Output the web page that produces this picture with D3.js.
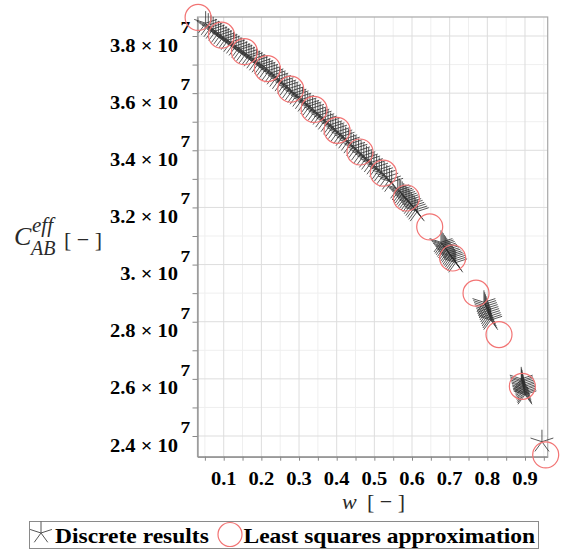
<!DOCTYPE html>
<html>
<head>
<meta charset="utf-8">
<script src="https://cdn.jsdelivr.net/npm/d3@7"></script>
<style>
  body { margin: 0; background: #fff; }
  svg { display: block; }
</style>
</head>
<body>
<svg id="chart" width="561" height="552"></svg>
<script>
// Effective coefficient C_AB^eff (in units of 10^7) against w.

// Least squares approximation, sampled
const fitW = [0.032, 0.094, 0.155, 0.216, 0.278, 0.340, 0.401, 0.462,
              0.524, 0.585, 0.647, 0.708, 0.770, 0.831, 0.893, 0.955];
const fitC = [3.865, 3.803, 3.745, 3.686, 3.614, 3.543, 3.470, 3.394,
              3.320, 3.233, 3.132, 3.023, 2.900, 2.755, 2.574, 2.334];

// Discrete results: dense run at low w
const runW = [0.052, 0.059, 0.066, 0.072, 0.079, 0.086, 0.092,
              0.099, 0.106, 0.112, 0.119, 0.126, 0.133, 0.140, 0.146, 0.153,
              0.160, 0.167, 0.173, 0.180, 0.187, 0.194, 0.201, 0.207, 0.214,
              0.221, 0.228, 0.234, 0.241, 0.248, 0.255, 0.262, 0.268, 0.275,
              0.282, 0.289, 0.295, 0.302, 0.309, 0.316, 0.323, 0.329, 0.336,
              0.343, 0.350, 0.356, 0.363, 0.370, 0.377, 0.384, 0.390, 0.397,
              0.404, 0.411, 0.417, 0.424, 0.431, 0.438, 0.445, 0.451, 0.458,
              0.465, 0.472, 0.479, 0.485, 0.492, 0.499, 0.506, 0.513, 0.519,
              0.526, 0.533, 0.540, 0.546];
const runC = [3.845, 3.838, 3.831, 3.825, 3.818, 3.811, 3.805,
              3.798, 3.792, 3.786, 3.779, 3.773, 3.766, 3.759, 3.754, 3.747,
              3.740, 3.733, 3.728, 3.721, 3.714, 3.707, 3.701, 3.695, 3.688,
              3.680, 3.672, 3.665, 3.657, 3.649, 3.641, 3.633, 3.626, 3.617,
              3.609, 3.601, 3.595, 3.587, 3.579, 3.570, 3.562, 3.556, 3.548,
              3.539, 3.531, 3.524, 3.515, 3.507, 3.499, 3.490, 3.483, 3.475,
              3.466, 3.458, 3.450, 3.441, 3.433, 3.424, 3.415, 3.408, 3.399,
              3.390, 3.382, 3.374, 3.367, 3.358, 3.350, 3.342, 3.333, 3.326,
              3.317, 3.307, 3.297, 3.289];

// Discrete results: groups at higher w
const groupAW = [0.562, 0.566, 0.570, 0.574, 0.578, 0.582, 0.586,
                 0.590, 0.594, 0.598, 0.602, 0.606, 0.610, 0.614];
const groupAC = [3.266, 3.260, 3.254, 3.249, 3.243, 3.237, 3.231,
                 3.225, 3.218, 3.212, 3.205, 3.199, 3.192, 3.186];
const groupBW = [0.677, 0.680, 0.683, 0.686, 0.689, 0.692, 0.695,
                 0.698, 0.701, 0.704, 0.707, 0.710, 0.713, 0.716];
const groupBC = [3.078, 3.073, 3.068, 3.062, 3.057, 3.052, 3.046,
                 3.041, 3.035, 3.030, 3.025, 3.019, 3.013, 3.007];
const groupCW = [0.791, 0.793, 0.795, 0.797, 0.799, 0.801, 0.803, 0.805, 0.807, 0.809];
const groupCC = [2.868, 2.861, 2.854, 2.847, 2.840, 2.833, 2.826, 2.819, 2.812, 2.806];
const groupDW = [0.890, 0.891, 0.892, 0.893, 0.894, 0.895, 0.896, 0.897, 0.898, 0.899, 0.900];
const groupDC = [2.600, 2.594, 2.589, 2.583, 2.577, 2.572, 2.566, 2.561, 2.555, 2.550, 2.545];
const loneW = [0.945];
const loneC = [2.380];

// Axis ticks and labels
const xTicks = [0.1, 0.2, 0.3, 0.4, 0.5, 0.6, 0.7, 0.8, 0.9];
const xTickLabels = ["0.1", "0.2", "0.3", "0.4", "0.5", "0.6", "0.7", "0.8", "0.9"];
const xMinorTicks = [0.05, 0.15, 0.25, 0.35, 0.45, 0.55, 0.65, 0.75, 0.85, 0.95];
const yTicks = [2.4, 2.6, 2.8, 3.0, 3.2, 3.4, 3.6, 3.8];
const yTickLabels = ["2.4", "2.6", "2.8", "3.", "3.2", "3.4", "3.6", "3.8"];
const yMinorTicks = [2.5, 2.7, 2.9, 3.1, 3.3, 3.5, 3.7];
const yExponent = "7";

const legendLabels = ["Discrete results", "Least squares approximation"];

// ---------------------------------------------------------------
const svg = d3.select("#chart");
const frame = { left: 197.5, right: 547.7, top: 17, bottom: 456.7 };

const x = d3.scaleLinear().domain([0.0304, 0.9603]).range([frame.left, frame.right]);
const y = d3.scaleLinear().domain([2.3276, 3.8665]).range([frame.bottom, frame.top]);

const serif = "'Liberation Serif', 'Times New Roman', serif";
const starColor = "#2e2e2e";
const circleColor = "#f27474";

// grid
const grid = svg.append("g");
grid.selectAll("line.vmin").data(xMinorTicks).join("line")
  .attr("x1", d => x(d)).attr("x2", d => x(d))
  .attr("y1", frame.top).attr("y2", frame.bottom)
  .attr("stroke", "#efefef").attr("stroke-width", 1);
grid.selectAll("line.hmin").data(yMinorTicks).join("line")
  .attr("x1", frame.left).attr("x2", frame.right)
  .attr("y1", d => y(d)).attr("y2", d => y(d))
  .attr("stroke", "#efefef").attr("stroke-width", 1);
grid.selectAll("line.vmaj").data(xTicks).join("line")
  .attr("x1", d => x(d)).attr("x2", d => x(d))
  .attr("y1", frame.top).attr("y2", frame.bottom)
  .attr("stroke", "#dddddd").attr("stroke-width", 1);
grid.selectAll("line.hmaj").data(yTicks).join("line")
  .attr("x1", frame.left).attr("x2", frame.right)
  .attr("y1", d => y(d)).attr("y2", d => y(d))
  .attr("stroke", "#dddddd").attr("stroke-width", 1);

// frame
svg.append("rect")
  .attr("x", frame.left).attr("y", frame.top)
  .attr("width", frame.right - frame.left).attr("height", frame.bottom - frame.top)
  .attr("fill", "none").attr("stroke", "#a8a8a8").attr("stroke-width", 1.2);

// axes (tick marks only; labels are set below)
const xAxis = d3.axisBottom(x)
  .tickValues(xTicks.concat(xMinorTicks)).tickSize(4).tickSizeOuter(0).tickFormat("");
const yAxis = d3.axisLeft(y)
  .tickValues(yTicks.concat(yMinorTicks)).tickSize(5).tickSizeOuter(0).tickFormat("");
const gx = svg.append("g").attr("transform", `translate(0,${frame.bottom})`).call(xAxis);
const gy = svg.append("g").attr("transform", `translate(${frame.left},0)`).call(yAxis);
[gx, gy].forEach(g => {
  g.select(".domain").attr("stroke", "#999").attr("stroke-width", 1.4);
  g.selectAll(".tick line").attr("stroke", "#888");
});

// x tick labels
svg.append("g").selectAll("text").data(xTicks).join("text")
  .attr("transform", d => `translate(${x(d)},485) scale(1.14,1)`)
  .attr("text-anchor", "middle")
  .attr("font-family", serif).attr("font-weight", "bold").attr("font-size", 18)
  .attr("fill", "#000")
  .text((d, i) => xTickLabels[i]);

// y tick labels: mantissa × 10 with raised exponent
const yl = svg.append("g");
yl.selectAll("text.m").data(yTicks).join("text")
  .attr("transform", d => `translate(178,${y(d) + 15.5}) scale(1.14,1)`)
  .attr("text-anchor", "end")
  .attr("font-family", serif).attr("font-weight", "bold").attr("font-size", 18)
  .attr("fill", "#000")
  .text((d, i) => `${yTickLabels[i]} \u00d7 10`);
yl.selectAll("text.e").data(yTicks).join("text")
  .attr("transform", d => `translate(180.5,${y(d) - 3}) scale(1.14,1)`)
  .attr("font-family", serif).attr("font-weight", "bold").attr("font-size", 17)
  .attr("fill", "#000")
  .text(yExponent);

// axis titles
const xt = svg.append("text")
  .attr("x", 342).attr("y", 509)
  .attr("font-family", serif).attr("font-size", 22).attr("fill", "#2a2a2a");
xt.append("tspan").attr("font-style", "italic").text("w");
xt.append("tspan").attr("x", 367).text("[ \u2212 ]");

const yt = svg.append("g").attr("font-family", serif).attr("fill", "#2a2a2a");
yt.append("text").attr("x", 14).attr("y", 245)
  .attr("font-style", "italic").attr("font-size", 26).text("C");
yt.append("text").attr("x", 32).attr("y", 232)
  .attr("font-style", "italic").attr("font-size", 21).text("eff");
yt.append("text").attr("x", 31).attr("y", 255)
  .attr("font-style", "italic").attr("font-size", 20).text("AB");
yt.append("text").attr("x", 64).attr("y", 247)
  .attr("font-size", 22).text("[ \u2212 ]");

// five-armed asterisk marker
const ARM = 12;
const armAngles = [90, 162, 234, 306, 18].map(a => a * Math.PI / 180);
function starPath(cx, cy, r) {
  return armAngles.map(a =>
    `M${cx},${cy}L${cx + r * Math.cos(a)},${cy - r * Math.sin(a)}`).join("");
}

const discrete = [
  [runW, runC], [groupAW, groupAC], [groupBW, groupBC],
  [groupCW, groupCC], [groupDW, groupDC], [loneW, loneC]
].flatMap(([ws, cs]) => ws.map((w, i) => ({ w, c: cs[i] })));

svg.append("g").selectAll("path").data(discrete).join("path")
  .attr("d", d => starPath(x(d.w), y(d.c), ARM))
  .attr("fill", "none").attr("stroke", starColor)
  .attr("stroke-opacity", 0.8).attr("stroke-width", 1);

// least squares circles on top
svg.append("g").selectAll("circle").data(fitW.map((w, i) => ({ w, c: fitC[i] }))).join("circle")
  .attr("cx", d => x(d.w)).attr("cy", d => y(d.c)).attr("r", 13)
  .attr("fill", "none").attr("stroke", circleColor).attr("stroke-width", 1.2);

// legend
const lg = svg.append("g");
lg.append("rect").attr("x", 29.5).attr("y", 521.5).attr("width", 509).attr("height", 27)
  .attr("fill", "#fff").attr("stroke", "#8a8a8a").attr("stroke-width", 1);
lg.append("path").attr("d", starPath(41, 533, 11.5))
  .attr("fill", "none").attr("stroke", "#555").attr("stroke-width", 1);
lg.append("circle").attr("cx", 230).attr("cy", 534.5).attr("r", 12)
  .attr("fill", "none").attr("stroke", circleColor).attr("stroke-width", 1.2);
lg.selectAll("text").data(legendLabels).join("text")
  .attr("transform", (d, i) => `translate(${i === 0 ? 55 : 243.5},542.5) scale(1.12,1)`)
  .attr("font-family", serif).attr("font-weight", "bold").attr("font-size", 21)
  .attr("fill", "#000")
  .text(d => d);
</script>
</body>
</html>
